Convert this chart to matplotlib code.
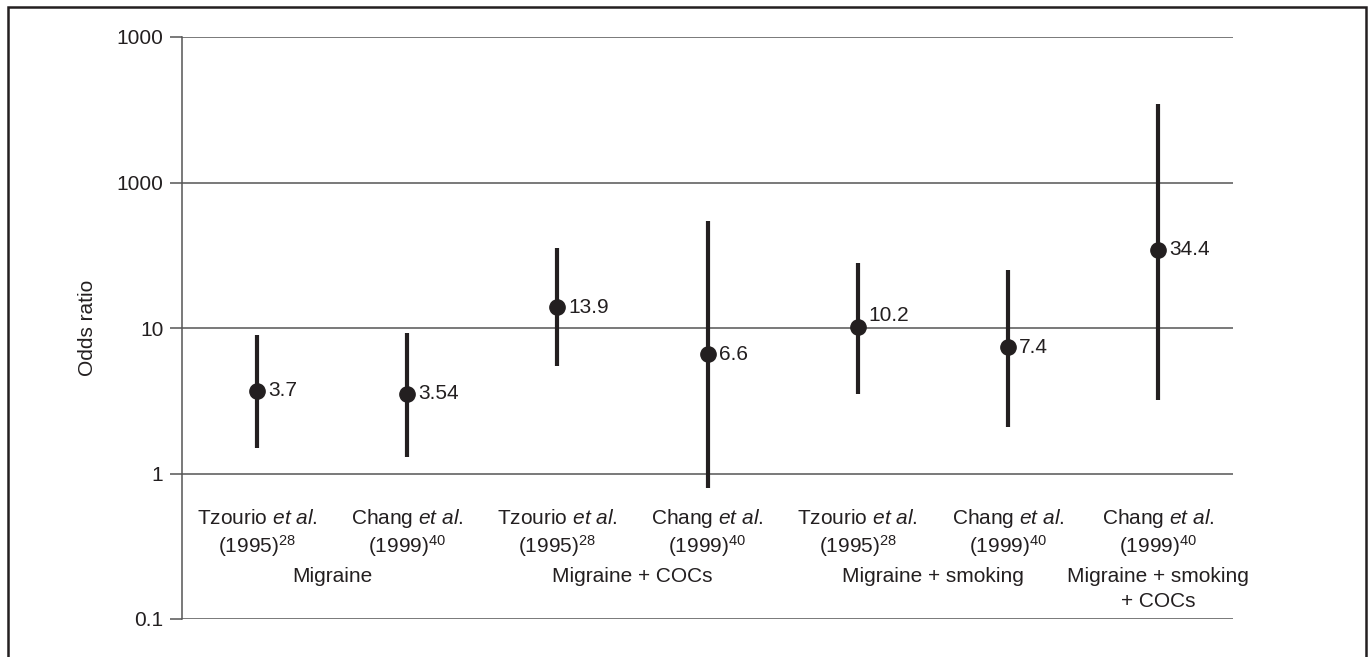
import matplotlib
matplotlib.use("Agg")
import matplotlib.pyplot as plt
from matplotlib.patches import Rectangle
from matplotlib.ticker import FixedLocator, FixedFormatter
import matplotlib.transforms as mtransforms

plt.rcParams['font.family'] = ['Liberation Sans', 'DejaVu Sans']
plt.rcParams['mathtext.fontset'] = 'custom'
plt.rcParams['mathtext.rm'] = 'Liberation Sans'
plt.rcParams['mathtext.it'] = 'Liberation Sans:italic'

# --- dados ---
authors = ['Tzourio', 'Chang', 'Tzourio', 'Chang', 'Tzourio', 'Chang', 'Chang']
years = ['1995', '1999', '1995', '1999', '1995', '1999', '1999']
refs = ['28', '40', '28', '40', '28', '40', '40']
odds = [3.7, 3.54, 13.9, 6.6, 10.2, 7.4, 34.4]
ci_low = [1.5, 1.3, 5.5, 0.79, 3.5, 2.1, 3.2]
ci_high = [9.0, 9.3, 35.5, 54.0, 28.0, 25.0, 345.0]
odds_labels = ['3.7', '3.54', '13.9', '6.6', '10.2', '7.4', '34.4']
groups = ['Migraine', 'Migraine + COCs', 'Migraine + smoking', 'Migraine + smoking\n+ COCs']
group_members = [[0, 1], [2, 3], [4, 5], [6]]
ytick_vals = [0.1, 1, 10, 100, 1000]
ytick_text = ['0.1', '1', '10', '1000', '1000']

cor = '#231f20'
cinza = '#555555'
fs = 15

fig = plt.figure(figsize=(13.71, 6.57), dpi=100)
ax = fig.add_axes([182 / 1371, 1 - 619 / 657, (1233 - 182) / 1371, (619 - 37) / 657])

x = list(range(len(odds)))
ax.vlines(x, ci_low, ci_high, color=cor, linewidth=3.0, zorder=3)
ax.plot(x, odds, 'o', color=cor, markersize=11, zorder=4)

# rótulos dos valores
nudge = {4: 8}
for i, lab in enumerate(odds_labels):
    ax.annotate(lab, (x[i], odds[i]), xytext=(8, nudge.get(i, 0)), textcoords='offset points',
                ha='left', va='center', fontsize=fs, color=cor)

ax.set_yscale('log')
ax.set_ylim(0.1, 1000)
ax.set_xlim(-0.5, 6.5)
ax.yaxis.set_major_locator(FixedLocator(ytick_vals))
ax.yaxis.set_major_formatter(FixedFormatter(ytick_text))
ax.yaxis.set_minor_locator(FixedLocator([]))
ax.set_xticks([])
ax.grid(axis='y', color=cinza, linewidth=1.1, zorder=1)
for s in ['top', 'right', 'bottom']:
    ax.spines[s].set_visible(False)
ax.spines['left'].set_color(cinza)
ax.spines['left'].set_linewidth(1.1)
ax.tick_params(axis='y', length=8.5, width=1.1, color=cinza, pad=5, labelsize=fs, labelcolor=cor)
ax.set_ylabel('Odds ratio', fontsize=fs, color=cor, labelpad=14)

# rótulos das categorias
trans = mtransforms.blended_transform_factory(ax.transData, ax.transAxes)
for i in x:
    ax.text(x[i], 0.1735, authors[i] + r' $\mathit{et}$ $\mathit{al.}$', transform=trans,
            ha='center', va='center', fontsize=fs, color=cor)
    ax.text(x[i], 0.125, '(' + years[i] + ')$^{' + refs[i] + '}$', transform=trans,
            ha='center', va='center', fontsize=fs, color=cor)
for g, membros in zip(groups, group_members):
    xc = sum(membros) / len(membros)
    ax.text(xc, 0.089, g, transform=trans, ha='center', va='top', fontsize=fs,
            color=cor, linespacing=1.4)

# moldura
fig.patches.append(Rectangle((8 / 1371, -0.05), 1358 / 1371, 1.05 - 7 / 657,
                             transform=fig.transFigure, fill=False, edgecolor=cor,
                             linewidth=1.8))

plt.savefig('out.png', dpi=100)
